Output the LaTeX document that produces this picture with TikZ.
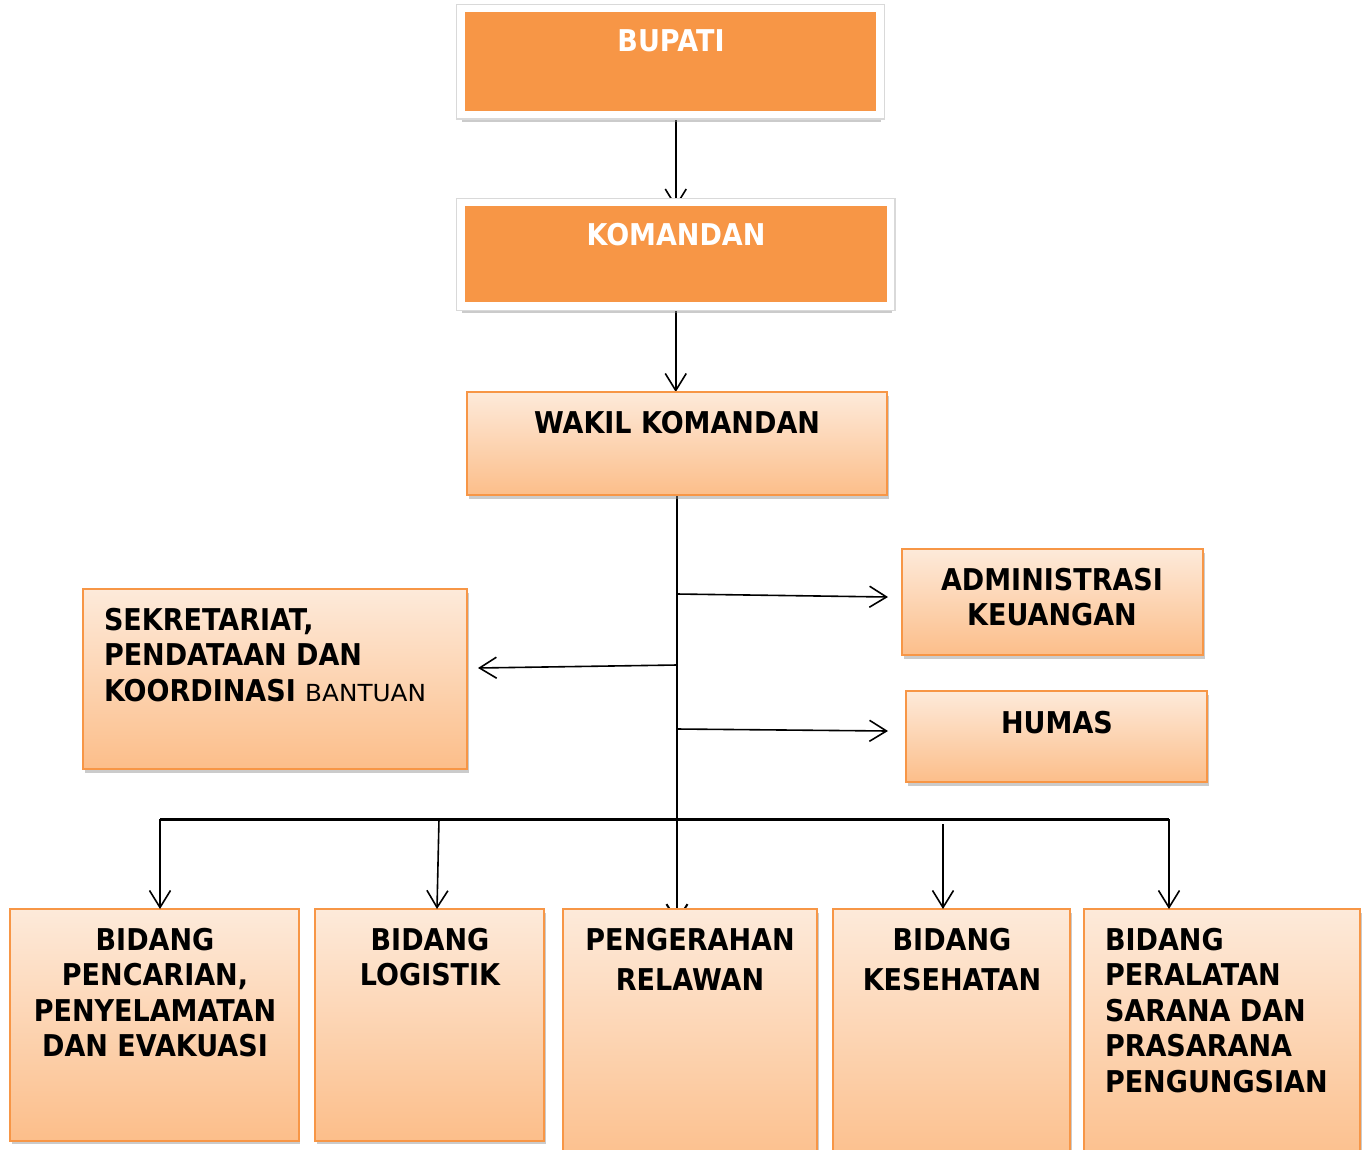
\documentclass[tikz,border=0pt]{standalone}
\usepackage{fontspec}
\newfontfamily\orgfont{DejaVu Sans}[FakeStretch=0.9]
\newfontfamily\orgreg{DejaVu Sans}[FakeStretch=1.05]
\usetikzlibrary{arrows.meta,shadows,calc}
\definecolor{accent}{RGB}{247,150,70}
\definecolor{gtop}{RGB}{253,234,218}
\definecolor{gbot}{RGB}{252,190,138}
\pgfdeclarelayer{bg}
\pgfsetlayers{bg,main}
\begin{document}
\begin{tikzpicture}[x=1pt,y=-1pt,
  topbox/.style={fill=accent, draw=white, line width=7.5pt, inner sep=0pt, outer sep=0pt,
    drop shadow={shadow xshift=1pt,shadow yshift=-7pt,fill=black!45,opacity=0.45},
    preaction={draw=black!15, line width=10pt}},
  gbox/.style={top color=gtop, bottom color=gbot, draw=accent, line width=1.8pt, inner sep=0pt, outer sep=0pt,
    drop shadow={shadow xshift=1.5pt,shadow yshift=-3.5pt,fill=black!45,opacity=0.45}},
  lbl/.style={inner sep=0pt, outer sep=0pt, anchor=north, align=center,
    font=\orgfont\bfseries\fontsize{30}{35.5}\selectfont},
  lblwide/.style={lbl, font=\orgfont\bfseries\fontsize{30}{40.5}\selectfont},
  lblleft/.style={lbl, anchor=north west, align=left},
  arr/.style={line width=1.6pt, -{Straight Barb[length=17pt,width=21pt]}},
  trunk/.style={line width=2pt},
  bus/.style={line width=3pt}]
\useasboundingbox (0,0) rectangle (1363,1149);
\begin{pgfonlayer}{bg}
\fill[white] (0,0) rectangle (1363,1149);
\end{pgfonlayer}

% boxes
\node[topbox, minimum width=419pt, minimum height=106pt] (bupati) at (670.5,61.5) {};
\node[topbox, minimum width=429.5pt, minimum height=103.5pt] (komandan) at (675.75,254.25) {};
\node[gbox, minimum width=420pt, minimum height=103pt] (wakil) at (677,443.5) {};
\node[gbox, minimum width=301pt, minimum height=106pt] (admin) at (1052.5,602) {};
\node[gbox, minimum width=301pt, minimum height=91pt] (humas) at (1056.5,736.5) {};
\node[gbox, minimum width=384pt, minimum height=180pt] (sekret) at (275,679) {};
\node[gbox, minimum width=288.6pt, minimum height=231.7pt] (b1) at (154.3,1024.85) {};
\node[gbox, minimum width=229pt, minimum height=231.7pt] (b2) at (429.5,1024.85) {};
\node[gbox, minimum width=254pt, minimum height=261pt] (b3) at (690,1039.5) {};
\node[gbox, minimum width=237pt, minimum height=261pt] (b4) at (951.5,1039.5) {};
\node[gbox, minimum width=276pt, minimum height=261pt] (b5) at (1222,1039.5) {};

% texts
\node[lbl, text=white] (tbupati) at (671,30) {BUPATI};
\node[lbl, text=white] (tkomandan) at (676,223) {KOMANDAN};
\node[lbl] (twakil) at (677,411) {WAKIL KOMANDAN};
\node[lbl] (tadmin) at (1052,568) {ADMINISTRASI\\KEUANGAN};
\node[lbl] (thumas) at (1057,711) {HUMAS};
\node[lblleft] (tsekret) at (104,608) {SEKRETARIAT,\\PENDATAAN DAN\\KOORDINASI {\orgreg\mdseries\fontsize{23.5}{35.5}\selectfont BANTUAN}};
\node[lbl] (tb1) at (155,928) {BIDANG\\PENCARIAN,\\PENYELAMATAN\\DAN EVAKUASI};
\node[lbl] (tb2) at (430,928) {BIDANG\\LOGISTIK};
\node[lblwide] (tb3) at (690,928) {PENGERAHAN\\RELAWAN};
\node[lblwide] (tb4) at (952,928) {BIDANG\\KESEHATAN};
\node[lblleft] (tb5) at (1105,928) {BIDANG\\PERALATAN\\SARANA DAN\\PRASARANA\\PENGUNGSIAN};

% connector coordinates
\coordinate (ja) at (677,594);
\coordinate (js) at (677,665);
\coordinate (jh) at (677,729);
\coordinate (bl) at (160,819);
\coordinate (br) at (1169,819);
\coordinate (d2) at (439,819);
\coordinate (d4) at (943,824);

\begin{pgfonlayer}{bg}
\draw[arr] (komandan.north |- bupati.south) -- ($(komandan.north)+(0,5)$);
\draw[arr] (komandan.south) -- (komandan.south |- wakil.north);
\draw[trunk, -{Straight Barb[length=17pt,width=21pt]}] ([yshift=4pt]wakil.south) -- ($(wakil.south |- b3.north)+(0,14)$);
\end{pgfonlayer}
\draw[arr] (ja) -- ($(admin.west)+(-14,-5)$);
\draw[arr] (js) -- ($(sekret.east)+(11,-11)$);
\draw[arr] (jh) -- ($(humas.west)+(-18,-5.5)$);
\draw[bus] (bl) -- (br);
\draw[arr] (bl) -- (bl |- b1.north);
\draw[arr] (d2) -- ($(b2.north)+(7.5,0)$);
\draw[arr] (d4) -- (d4 |- b4.north);
\draw[arr] (br) -- (br |- b5.north);
\end{tikzpicture}
\end{document}
